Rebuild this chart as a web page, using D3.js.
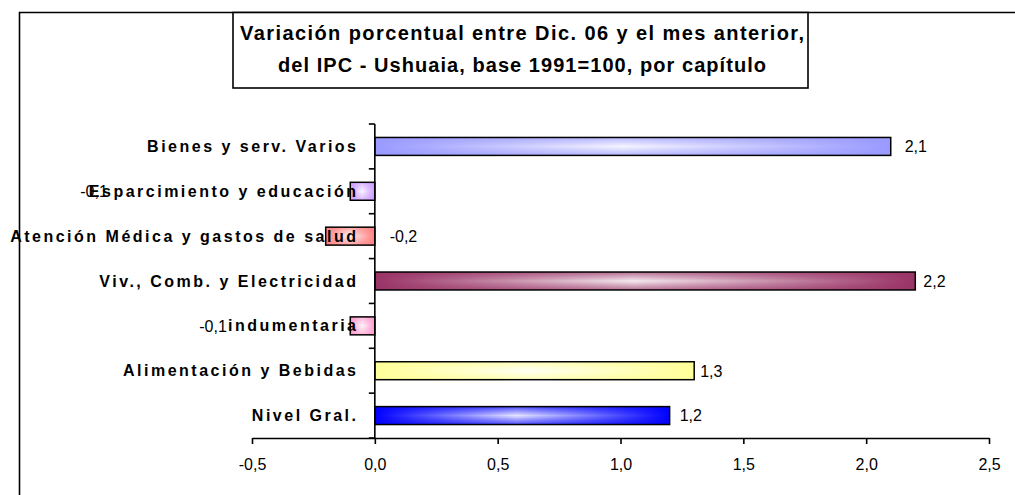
<!DOCTYPE html>
<html>
<head>
<meta charset="utf-8">
<script src="https://cdn.jsdelivr.net/npm/d3@7"></script>
<style>
    body { margin: 0; background: #fff; }
    svg text { font-family: "Liberation Sans", Arial, sans-serif; fill: #000; }
</style>
</head>
<body>
<svg id="chart" width="1015" height="495"></svg>
<script>
// categories, top to bottom as drawn
const categories = [
    "Bienes y serv. Varios",
    "Esparcimiento y educación",
    "Atención Médica y gastos de salud",
    "Viv., Comb. y Electricidad",
    "indumentaria",
    "Alimentación y Bebidas",
    "Nivel Gral."
];
const values = [2.1, -0.1, -0.2, 2.2, -0.1, 1.3, 1.2];
const barColors = ["#9999FF", "#CC99FF", "#FF8080", "#993366", "#FF99CC", "#FFFF99", "#0000FF"];
const xTicks = [-0.5, 0, 0.5, 1, 1.5, 2, 2.5];
const titleLines = [
    "Variación porcentual entre Dic. 06 y el mes anterior,",
    "del IPC - Ushuaia, base 1991=100, por capítulo"
];

// excel left some data labels in odd spots, nudge them the same way
const labelNudge = {
    "Bienes y serv. Varios": 4,
    "Esparcimiento y educación": -280,
    "Atención Médica y gastos de salud": 54,
    "Viv., Comb. y Electricidad": -2,
    "indumentaria": -161,
    "Alimentación y Bebidas": -4
};

const svg = d3.select("#chart");
const locale = d3.formatLocale({decimal: ",", thousands: ".", grouping: [3], currency: ["$", ""], minus: "-"});
const fmt = locale.format(".1f");

const x = d3.scaleLinear().domain([-0.5, 2.5]).range([252, 989]);
const y = d3.scaleBand().domain(categories).range([124, 438])
    .paddingInner(0.6).paddingOuter(0.3);

// outer chart frame (runs off the right and bottom edges)
svg.append("path")
    .attr("d", "M19.5,600 V12.5 H1100")
    .attr("fill", "none")
    .attr("stroke", "#000")
    .attr("stroke-width", 1.6);

// gradients: horizontal colour-white-colour, plus a vertical edge shade
const defs = svg.append("defs");
barColors.forEach((c, i) => {
    const h = defs.append("linearGradient").attr("id", "gh" + i)
        .attr("x1", "0%").attr("x2", "100%").attr("y1", "0%").attr("y2", "0%");
    h.append("stop").attr("offset", "0%").attr("stop-color", c);
    h.append("stop").attr("offset", "48%").attr("stop-color", "#fff");
    h.append("stop").attr("offset", "100%").attr("stop-color", c);

    const v = defs.append("linearGradient").attr("id", "gv" + i)
        .attr("x1", "0%").attr("x2", "0%").attr("y1", "0%").attr("y2", "100%");
    v.append("stop").attr("offset", "0%").attr("stop-color", c).attr("stop-opacity", 0.7);
    v.append("stop").attr("offset", "50%").attr("stop-color", c).attr("stop-opacity", 0.1);
    v.append("stop").attr("offset", "100%").attr("stop-color", c).attr("stop-opacity", 0.7);
});

const bars = svg.append("g").selectAll("g")
    .data(categories)
    .join("g");

bars.append("rect")
    .attr("x", (d, i) => x(Math.min(0, values[i])))
    .attr("y", d => y(d))
    .attr("width", (d, i) => Math.abs(x(values[i]) - x(0)))
    .attr("height", y.bandwidth())
    .attr("fill", (d, i) => `url(#gh${i})`);

bars.append("rect")
    .attr("x", (d, i) => x(Math.min(0, values[i])))
    .attr("y", d => y(d))
    .attr("width", (d, i) => Math.abs(x(values[i]) - x(0)))
    .attr("height", y.bandwidth())
    .attr("fill", (d, i) => `url(#gv${i})`)
    .attr("stroke", "#000")
    .attr("stroke-width", 1.5);

// x axis
const xAxis = svg.append("g")
    .attr("transform", "translate(0,438)")
    .call(d3.axisBottom(x).tickValues(xTicks).tickFormat(fmt).tickSize(6).tickSizeOuter(0));
xAxis.select(".domain").attr("stroke-width", 1.6);
xAxis.selectAll(".tick line").attr("stroke-width", 1.6);
xAxis.selectAll(".tick text")
    .attr("y", 21)
    .attr("font-size", 16)
    .attr("font-family", null);

// y axis: line with ticks at the category boundaries
const yAxis = svg.append("g");
yAxis.append("line")
    .attr("x1", x(0)).attr("x2", x(0))
    .attr("y1", y.range()[0]).attr("y2", y.range()[1])
    .attr("stroke", "#000").attr("stroke-width", 1.6);
yAxis.selectAll(".ytick")
    .data(d3.range(categories.length + 1))
    .join("line")
    .attr("class", "ytick")
    .attr("x1", x(0) - 6).attr("x2", x(0))
    .attr("y1", i => y.range()[0] + i * y.step())
    .attr("y2", i => y.range()[0] + i * y.step())
    .attr("stroke", "#000").attr("stroke-width", 1.6);

// category labels, spaced out like the original
svg.append("g").selectAll("text")
    .data(categories)
    .join("text")
    .attr("x", 358.5)
    .attr("y", d => y(d) + y.bandwidth() / 2 + 5.5)
    .attr("text-anchor", "end")
    .attr("font-size", 16)
    .attr("font-weight", "bold")
    .attr("letter-spacing", 2.5)
    .text(d => d);

// value labels
svg.append("g").selectAll("text")
    .data(categories)
    .join("text")
    .attr("x", (d, i) => x(values[i]) + 10 + (labelNudge[d] || 0))
    .attr("y", d => y(d) + y.bandwidth() / 2 + 5.8)
    .attr("font-size", 16)
    .text((d, i) => fmt(values[i]));

// title box
const titleCenter = 522;
svg.append("rect")
    .attr("x", 233).attr("y", 12.5)
    .attr("width", 575).attr("height", 75.5)
    .attr("fill", "#fff")
    .attr("stroke", "#000")
    .attr("stroke-width", 1.6);

const titleWidths = [564, 488];
svg.append("g").selectAll("text")
    .data(titleLines)
    .join("text")
    .attr("x", titleCenter)
    .attr("y", (d, i) => 40 + i * 31.5)
    .attr("text-anchor", "middle")
    .attr("font-size", 20)
    .attr("font-weight", "bold")
    .attr("textLength", (d, i) => titleWidths[i])
    .attr("lengthAdjust", "spacing")
    .text(d => d);
</script>
</body>
</html>
